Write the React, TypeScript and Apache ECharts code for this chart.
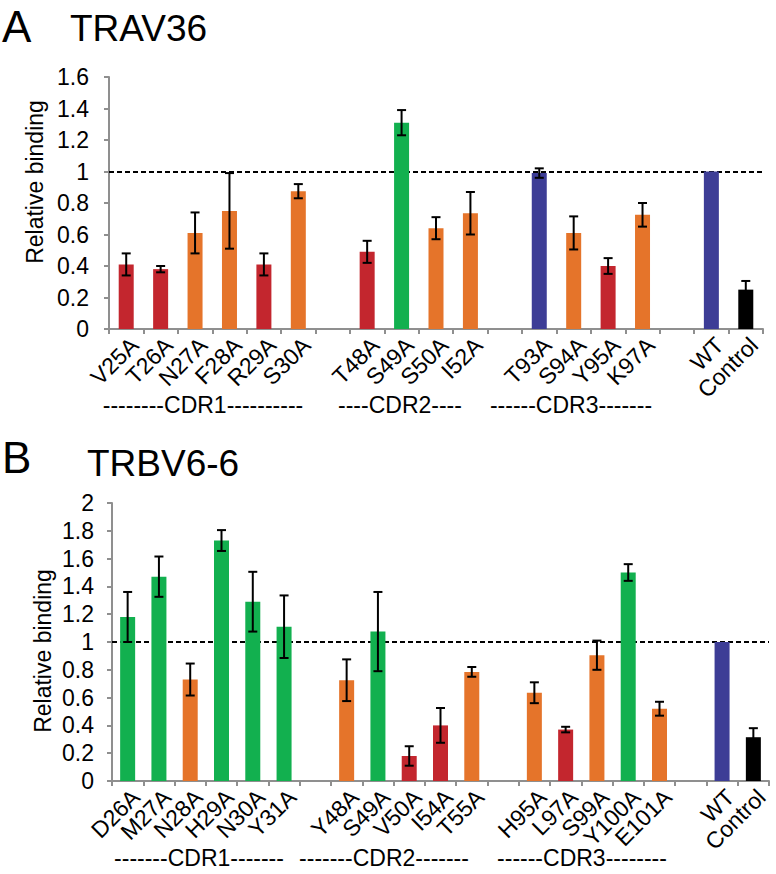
import React, { useEffect, useRef } from "react";
import * as echarts from "echarts";

// ---------- Data ----------
const categoriesA = ["V25A", "T26A", "N27A", "F28A", "R29A", "S30A", " ", "T48A", "S49A", "S50A", "I52A", "  ", "T93A", "S94A", "Y95A", "K97A", "   ", "WT", "Control"];
const valuesA = [0.41, 0.38, 0.61, 0.75, 0.41, 0.875, null, 0.49, 1.31, 0.64, 0.735, null, 0.99, 0.61, 0.4, 0.725, null, 1.0, 0.25];
const errorsA = [0.07, 0.02, 0.13, 0.24, 0.07, 0.045, null, 0.07, 0.08, 0.07, 0.135, null, 0.03, 0.105, 0.05, 0.075, null, null, 0.055];
const colorKeysA = ["red", "red", "orange", "orange", "red", "orange", "", "red", "green", "orange", "orange", "", "blue", "orange", "red", "orange", "", "blue", "black"];

const categoriesB = ["D26A", "M27A", "N28A", "H29A", "N30A", "Y31A", " ", "Y48A", "S49A", "V50A", "I54A", "T55A", "  ", "H95A", "L97A", "S99A", "Y100A", "E101A", "   ", "WT", "Control"];
const valuesB = [1.18, 1.47, 0.73, 1.73, 1.29, 1.11, null, 0.725, 1.075, 0.18, 0.4, 0.785, null, 0.635, 0.37, 0.905, 1.5, 0.52, null, 1.0, 0.315];
const errorsB = [0.18, 0.145, 0.115, 0.075, 0.215, 0.225, null, 0.15, 0.285, 0.07, 0.125, 0.035, null, 0.075, 0.02, 0.105, 0.06, 0.05, null, null, 0.065];
const colorKeysB = ["green", "green", "orange", "green", "green", "green", "", "orange", "green", "red", "red", "orange", "", "orange", "red", "orange", "green", "orange", "", "blue", "black"];

const yTicksA = { min: 0, max: 1.6, interval: 0.2 };
const yTicksB = { min: 0, max: 2, interval: 0.2 };
const referenceLevel = 1;

const groupLabelsA = ["--------CDR1----------", "----CDR2----", "------CDR3-------"];
const groupLabelsB = ["-------CDR1-------", "-------CDR2-------", "------CDR3--------"];

// ---------- Styles ----------
const PALETTE: Record<string, string> = {
  red: "#C3262E",
  orange: "#E5742A",
  green: "#12B04F",
  blue: "#3D3D96",
  black: "#000000",
};
const FONT = "'Liberation Sans', Arial, Helvetica, sans-serif";
const AXIS_COLOR = "#8f8f8f";

function barData(values: (number | null)[], keys: string[]) {
  return values.map((v, i) =>
    v == null ? null : { value: v, itemStyle: { color: PALETTE[keys[i]] } }
  );
}

function errData(values: (number | null)[], errs: (number | null)[]) {
  const out: any[] = [];
  values.forEach((v, i) => {
    const e = errs[i];
    if (v != null && e != null) out.push([i, v - e, v + e]);
  });
  return out;
}

function renderErr(_params: any, api: any) {
  const lo = api.coord([api.value(0), api.value(1)]);
  const hi = api.coord([api.value(0), api.value(2)]);
  const hw = 4.5;
  const st = { stroke: "#000", lineWidth: 2 };
  return {
    type: "group",
    children: [
      { type: "line", shape: { x1: lo[0], y1: lo[1], x2: hi[0], y2: hi[1] }, style: st },
      { type: "line", shape: { x1: lo[0] - hw, y1: lo[1], x2: lo[0] + hw, y2: lo[1] }, style: st },
      { type: "line", shape: { x1: hi[0] - hw, y1: hi[1], x2: hi[0] + hw, y2: hi[1] }, style: st },
    ],
  };
}

function xAxisCfg(cats: string[], gridIndex: number) {
  return {
    type: "category",
    gridIndex,
    data: cats,
    axisLine: { lineStyle: { color: AXIS_COLOR, width: 2 } },
    axisTick: { show: true, length: 5, interval: 0, lineStyle: { color: AXIS_COLOR, width: 2 } },
    axisLabel: {
      interval: 0,
      rotate: 45,
      margin: 4,
      align: "right",
      verticalAlign: "top",
      color: "#000",
      fontSize: 23,
      fontFamily: FONT,
    },
    splitLine: { show: false },
  };
}

function yAxisCfg(t: { min: number; max: number; interval: number }, gridIndex: number, margin: number) {
  return {
    type: "value",
    gridIndex,
    min: t.min,
    max: t.max,
    interval: t.interval,
    axisLine: { show: true, lineStyle: { color: AXIS_COLOR, width: 2 } },
    axisTick: { show: true, length: 5, lineStyle: { color: AXIS_COLOR, width: 2 } },
    axisLabel: { color: "#000", fontSize: 23, fontFamily: FONT, margin },
    splitLine: { show: false },
  };
}

function textEl(text: string, x: number, y: number, size: number, align = "left", rotation = 0) {
  return {
    type: "text",
    x,
    y,
    rotation,
    style: {
      text,
      fill: "#000",
      fontSize: size,
      fontFamily: FONT,
      align,
      verticalAlign: "middle",
    },
  };
}

export default function App() {
  const ref = useRef<HTMLDivElement>(null);

  useEffect(() => {
    if (!ref.current) return;
    const chart = echarts.init(ref.current, null, { renderer: "svg" });

    const markLine = {
      silent: true,
      symbol: "none",
      label: { show: false },
      lineStyle: { color: "#000", type: [5, 3], width: 1.8 },
      data: [{ yAxis: referenceLevel }],
      z: 1,
    };

    chart.setOption({
      animation: false,
      backgroundColor: "#ffffff",
      grid: [
        { left: 109, top: 77, width: 654, height: 252, containLabel: false },
        { left: 112, top: 503, width: 657, height: 278, containLabel: false },
      ],
      xAxis: [xAxisCfg(categoriesA, 0), xAxisCfg(categoriesB, 1)],
      yAxis: [yAxisCfg(yTicksA, 0, 20), yAxisCfg(yTicksB, 1, 18)],
      series: [
        {
          type: "bar",
          xAxisIndex: 0,
          yAxisIndex: 0,
          barWidth: 15,
          data: barData(valuesA, colorKeysA),
          markLine,
          z: 2,
        },
        {
          type: "custom",
          xAxisIndex: 0,
          yAxisIndex: 0,
          renderItem: renderErr,
          encode: { x: 0, y: [1, 2] },
          data: errData(valuesA, errorsA),
          z: 5,
        },
        {
          type: "bar",
          xAxisIndex: 1,
          yAxisIndex: 1,
          barWidth: 15,
          data: barData(valuesB, colorKeysB),
          markLine,
          z: 2,
        },
        {
          type: "custom",
          xAxisIndex: 1,
          yAxisIndex: 1,
          renderItem: renderErr,
          encode: { x: 0, y: [1, 2] },
          data: errData(valuesB, errorsB),
          z: 5,
        },
      ],
      graphic: [
        textEl("A", 2, 26, 44),
        textEl("TRAV36", 70, 28, 37),
        textEl("B", 2, 457, 44),
        textEl("TRBV6-6", 87, 463, 37),
        textEl("Relative binding", 35, 182, 23, "center", Math.PI / 2),
        textEl("Relative binding", 43, 651, 23, "center", Math.PI / 2),
        textEl(groupLabelsA[0], 203, 405, 23, "center"),
        textEl(groupLabelsA[1], 400, 405, 23, "center"),
        textEl(groupLabelsA[2], 571, 405, 23, "center"),
        textEl(groupLabelsB[0], 199, 858, 23, "center"),
        textEl(groupLabelsB[1], 384, 858, 23, "center"),
        textEl(groupLabelsB[2], 582, 858, 23, "center"),
      ],
    });

    return () => chart.dispose();
  }, []);

  return (
    <div
      ref={ref}
      style={{ position: "fixed", left: 0, top: 0, width: 776, height: 874, background: "#fff" }}
    />
  );
}
